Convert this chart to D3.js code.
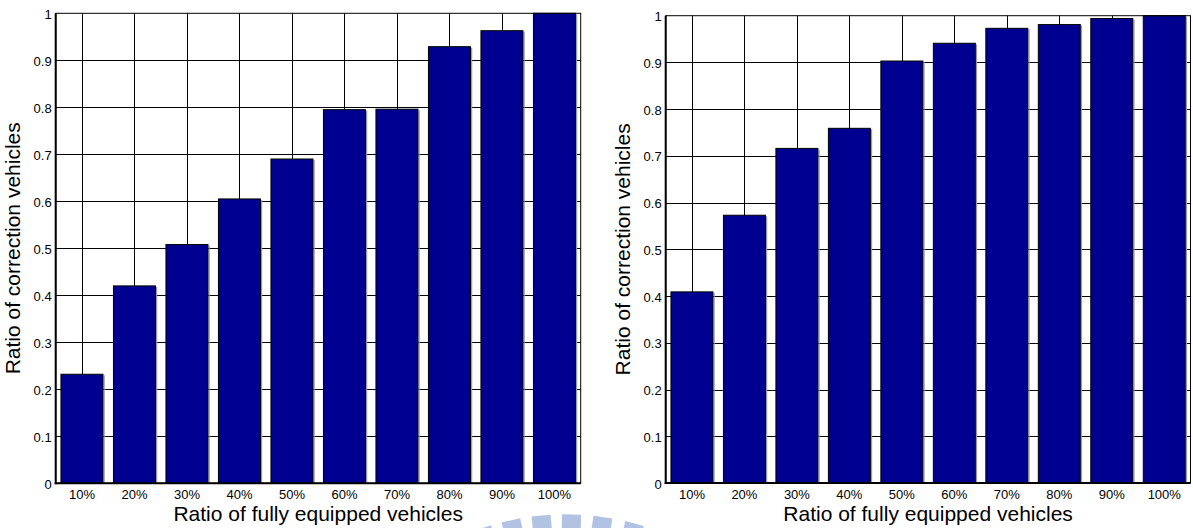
<!DOCTYPE html>
<html>
<head>
<meta charset="utf-8">
<script src="https://cdn.jsdelivr.net/npm/d3@7"></script>
<style>
  html, body { margin: 0; padding: 0; background: #fff; }
  svg { display: block; }
  text { font-family: "Liberation Sans", Arial, sans-serif; fill: #000; }
</style>
</head>
<body>
<svg id="chart" width="1193" height="528"></svg>
<script>
// Penetration levels of fully equipped vehicles (x categories)
const categories = ["10%", "20%", "30%", "40%", "50%", "60%", "70%", "80%", "90%", "100%"];
// Ratio of correction vehicles, first scenario
const leftValues = [0.232, 0.42, 0.508, 0.605, 0.69, 0.795, 0.796, 0.929, 0.963, 1.0];
// Ratio of correction vehicles, second scenario
const rightValues = [0.409, 0.573, 0.716, 0.759, 0.903, 0.941, 0.973, 0.981, 0.994, 1.0];
// Y axis ticks and their labels
const yTicks = [0, 0.1, 0.2, 0.3, 0.4, 0.5, 0.6, 0.7, 0.8, 0.9, 1];
const yTickLabels = ["0", "0.1", "0.2", "0.3", "0.4", "0.5", "0.6", "0.7", "0.8", "0.9", "1"];

const xTitle = "Ratio of fully equipped vehicles";
const yTitle = "Ratio of correction vehicles";

const svg = d3.select("#chart");
const barFill = "#000090";

function drawPanel(values, box) {
  const g = svg.append("g");
  const x = d3.scaleBand().domain(categories).range([box.left, box.right])
    .paddingInner(0.2).paddingOuter(0.1);
  const y = d3.scaleLinear().domain([0, 1]).range([box.bottom, box.top]);
  const crisp = v => Math.round(v) + 0.5;

  // grid: horizontal at y ticks, vertical at bar centres
  g.append("g").selectAll("line").data(yTicks.slice(1, -1)).join("line")
    .attr("x1", box.left).attr("x2", box.right)
    .attr("y1", d => crisp(y(d))).attr("y2", d => crisp(y(d)))
    .attr("stroke", "#000").attr("stroke-width", 1);
  g.append("g").selectAll("line").data(categories).join("line")
    .attr("x1", d => crisp(x(d) + x.bandwidth() / 2)).attr("x2", d => crisp(x(d) + x.bandwidth() / 2))
    .attr("y1", box.top).attr("y2", box.bottom)
    .attr("stroke", "#000").attr("stroke-width", 1);

  // soft grey edge on the right side of each bar
  g.append("g").selectAll("line").data(values).join("line")
    .attr("x1", (d, i) => x(categories[i]) + x.bandwidth() + 1.2)
    .attr("x2", (d, i) => x(categories[i]) + x.bandwidth() + 1.2)
    .attr("y1", d => y(d) + 1).attr("y2", box.bottom)
    .attr("stroke", "#9a9a9a").attr("stroke-width", 1.2);

  // bars
  g.append("g").selectAll("rect").data(values).join("rect")
    .attr("x", (d, i) => x(categories[i]))
    .attr("width", x.bandwidth())
    .attr("y", d => y(d))
    .attr("height", d => y(0) - y(d))
    .attr("fill", barFill)
    .attr("stroke", "#000").attr("stroke-width", 1);

  // axes frame
  g.append("rect")
    .attr("x", box.left).attr("y", box.top)
    .attr("width", box.right - box.left).attr("height", box.bottom - box.top)
    .attr("fill", "none").attr("stroke", "#000").attr("stroke-width", 1);
  g.append("line").attr("x1", box.left).attr("x2", box.left)
    .attr("y1", box.top).attr("y2", box.bottom + 1)
    .attr("stroke", "#000").attr("stroke-width", 2);
  g.append("line").attr("x1", box.left - 1).attr("x2", box.right)
    .attr("y1", box.bottom).attr("y2", box.bottom)
    .attr("stroke", "#000").attr("stroke-width", 2);

  // y tick labels
  g.append("g").selectAll("text").data(yTicks).join("text")
    .attr("x", box.left - 4)
    .attr("y", d => y(d) + 1)
    .attr("dy", "0.35em")
    .attr("text-anchor", "end")
    .style("font-size", "13px")
    .text((d, i) => yTickLabels[i]);

  // x tick labels
  g.append("g").selectAll("text").data(categories).join("text")
    .attr("x", d => x(d) + x.bandwidth() / 2)
    .attr("y", box.bottom + 16)
    .attr("text-anchor", "middle")
    .style("font-size", "13px")
    .text(d => d);

  // axis titles
  g.append("text")
    .attr("x", (box.left + box.right) / 2)
    .attr("y", box.bottom + 37.5)
    .attr("text-anchor", "middle")
    .style("font-size", "21px")
    .text(xTitle);
  g.append("text")
    .attr("transform", `translate(${box.left - 36},${(box.top + box.bottom) / 2}) rotate(-90)`)
    .attr("text-anchor", "middle")
    .style("font-size", "21px")
    .text(yTitle);
}

// faint institutional emblem printed behind the lower page edge
const emblem = svg.insert("g", ":first-child").attr("fill", "#b1c2e2");
const emblemAngles = [-25, -18.5, -12, -5.4, 1.2, 8, 15, 21.8];
emblemAngles.forEach(a => {
  emblem.append("rect")
    .attr("x", -9.5).attr("y", -265).attr("width", 19).attr("height", 40)
    .attr("transform", `translate(566,779.5) rotate(${a})`);
});

drawPanel(leftValues, { left: 55.7, right: 580.7, top: 13.3, bottom: 483.3 });
drawPanel(rightValues, { left: 665.7, right: 1190.5, top: 15.7, bottom: 483 });
</script>
</body>
</html>
